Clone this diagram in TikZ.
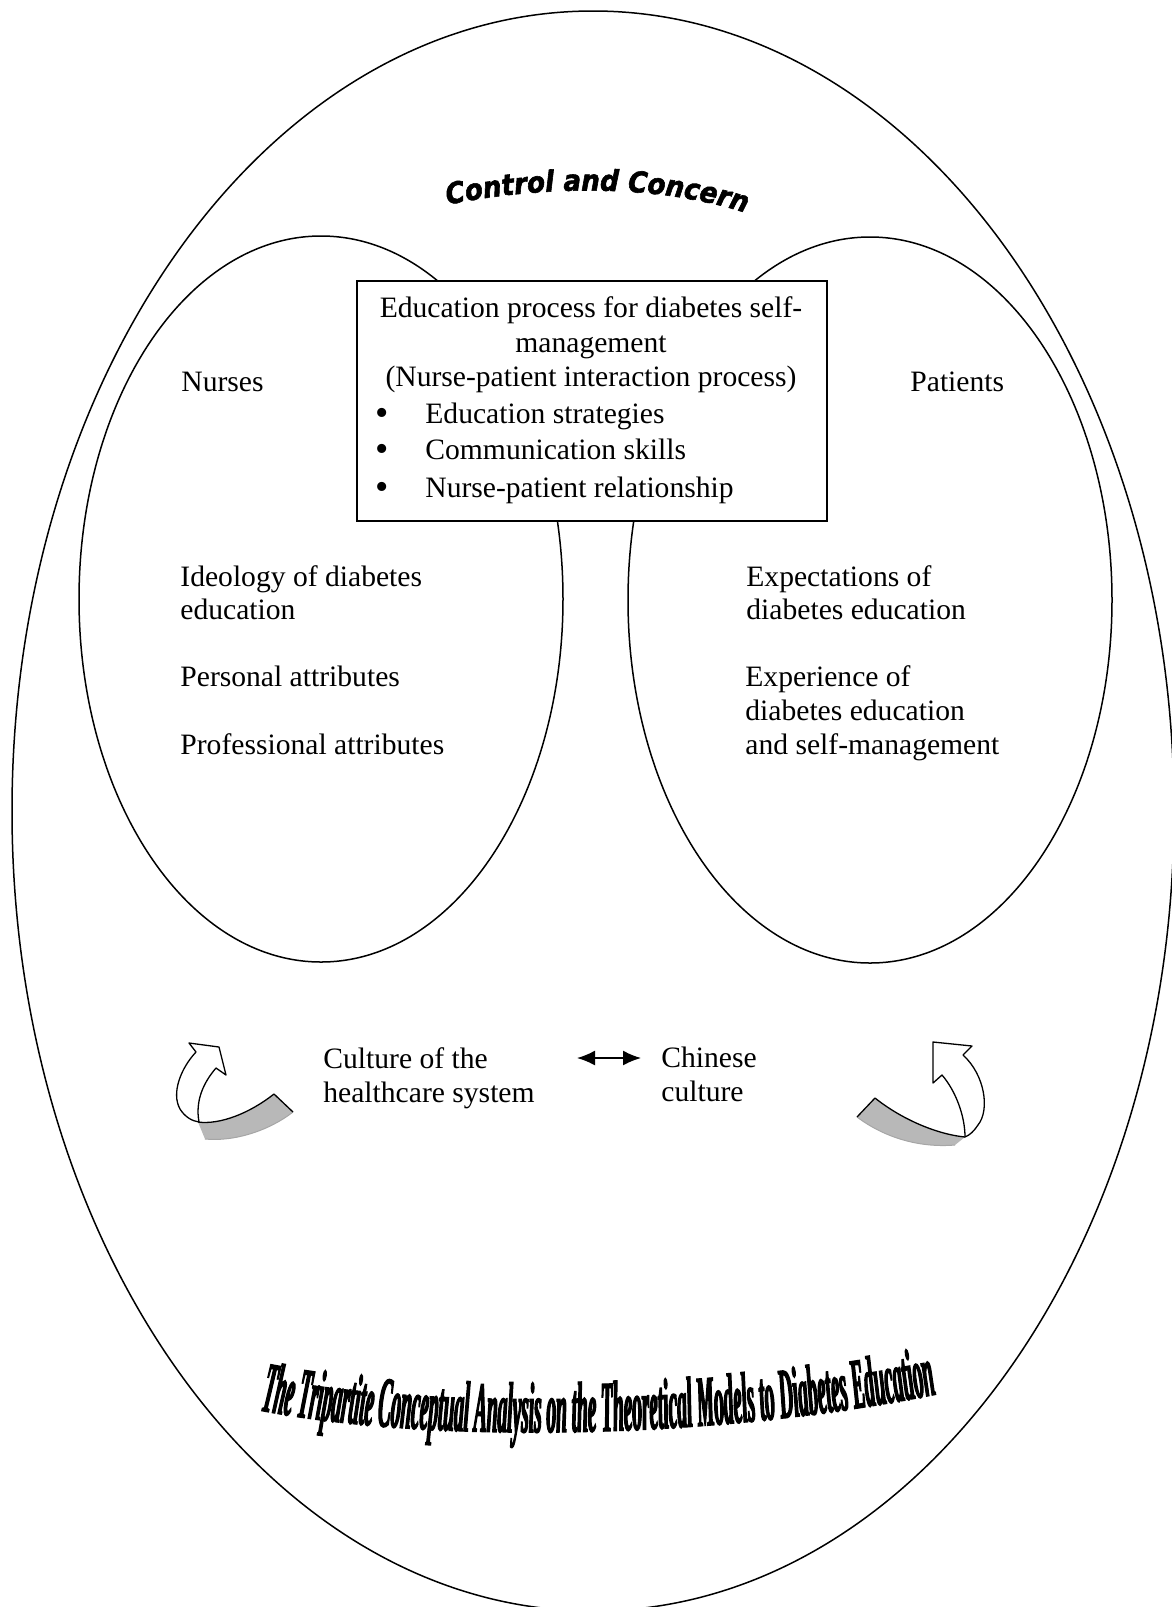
\documentclass[tikz,border=0pt]{standalone}
\usepackage{fontspec}
\setmainfont{Liberation Serif}
\newfontfamily\ccfont[FakeStretch=0.9,FakeBold=2]{DejaVu Sans}
\newfontfamily\ttlfont[FakeStretch=0.27,FakeBold=1.6]{Liberation Serif}
\usetikzlibrary{shapes.geometric,arrows.meta,decorations.text}

\begin{document}
\begin{tikzpicture}[x=0.5pt,y=-0.5pt,
  ring/.style={draw, ellipse, line width=0.75pt, inner sep=0pt, outer sep=0pt},
  procbox/.style={draw, fill=white, line width=1.2pt, inner sep=0pt},
  lbl/.style={anchor=base west, inner sep=0pt, font=\fontsize{14.8}{17}\selectfont},
  boxline/.style={anchor=base, inner sep=0pt, font=\fontsize{14.8}{18}\selectfont},
  boxitem/.style={anchor=base west, inner sep=0pt, font=\fontsize{14.8}{18}\selectfont},
  boxdot/.style={anchor=base west, inner sep=0pt, font=\fontsize{19}{18}\selectfont},
  edge/.style={draw=black, line width=0.65pt, line join=round},
  bandfill/.style={fill=black!28},
  bandsoft/.style={draw=black!35, line width=0.5pt},
  link/.style={line width=0.8pt, {Latex[length=9pt,width=7.5pt]}-{Latex[length=9pt,width=7.5pt]}}]

\useasboundingbox (0,0) rectangle (1172,1607);

% the three regions
\node[ring, minimum width=581pt, minimum height=800pt] (outer) at (593,811) {};
\node[ring, minimum width=242pt, minimum height=363pt] (nurses) at (321,599) {};
\node[ring, minimum width=242pt, minimum height=363pt] (patients) at (870,600) {};

% arched heading
\path[decorate, decoration={text along path, text align=center,
  text={|\ccfont\bfseries\itshape\fontsize{14.5}{14.5}\selectfont|Control and Concern}}]
  (441,206) .. controls (540,185) and (660,183) .. (752,215);

% interaction process box
\node[procbox, minimum width=235pt, minimum height=120pt] (process) at (592,401) {};
\node[boxline] (p1) at (591,317) {Education process for diabetes self-};
\node[boxline] (p2) at (591,352) {management};
\node[boxline] (p3) at (591,386) {(Nurse-patient interaction process)};
\node[boxdot] (d1) at (375,425) {\textbullet};
\node[boxdot] (d2) at (375,461) {\textbullet};
\node[boxdot] (d3) at (375,499) {\textbullet};
\node[boxitem] (i1) at (425,423) {Education strategies};
\node[boxitem] (i2) at (425,459) {Communication skills};
\node[boxitem] (i3) at (425,497) {Nurse-patient relationship};

% nurses side
\node[lbl] (nt) at (181,391) {Nurses};
\node[lbl] (n1) at (180,586) {Ideology of diabetes};
\node[lbl] (n2) at (180,619) {education};
\node[lbl] (n3) at (180,686) {Personal attributes};
\node[lbl] (n4) at (180,754) {Professional attributes};

% patients side
\node[lbl] (pt) at (910,391) {Patients};
\node[lbl] (q1) at (746,586) {Expectations of};
\node[lbl] (q2) at (746,619) {diabetes education};
\node[lbl] (q3) at (745,686) {Experience of};
\node[lbl] (q4) at (745,720) {diabetes education};
\node[lbl] (q5) at (745,754) {and self-management};

% cultures
\node[lbl] (c1) at (323,1068) {Culture of the};
\node[lbl] (c2) at (323,1102) {healthcare system};
\node[lbl] (h1) at (661,1067) {Chinese};
\node[lbl] (h2) at (661,1101) {culture};
\coordinate (dl) at (577,1058);
\coordinate (dr) at (641,1058);
\draw[link] (dl) -- (dr);

% left curved arrow
\fill[bandfill] (198,1122) .. controls (220,1125) and (250,1113) .. (274,1094)
  -- (293,1112) .. controls (270,1130) and (235,1142) .. (205,1139) -- cycle;
\draw[bandsoft] (293,1112) .. controls (270,1130) and (235,1142) .. (205,1139);
\draw[edge] (198,1122) .. controls (220,1125) and (250,1113) .. (274,1094) -- (293,1112);
\filldraw[fill=white, edge] (199,1122) .. controls (192,1121) and (185,1117) .. (180,1109)
  .. controls (171,1093) and (181,1068) .. (196,1052) -- (189,1043) -- (219,1047)
  -- (226,1075) -- (216,1068) .. controls (204,1082) and (195,1100) .. (199,1122) -- cycle;

% right curved arrow
\fill[bandfill] (875,1098) .. controls (900,1118) and (935,1134) .. (965,1137)
  -- (955,1145) .. controls (920,1148) and (885,1138) .. (857,1117) -- cycle;
\draw[bandsoft] (955,1145) .. controls (920,1148) and (885,1138) .. (857,1117);
\draw[edge] (857,1117) -- (875,1098) .. controls (900,1118) and (935,1134) .. (965,1137);
\filldraw[fill=white, edge] (965,1137) .. controls (965,1115) and (955,1090) .. (942,1075)
  -- (933,1083) -- (933,1042) -- (972,1046) -- (963,1055)
  .. controls (985,1075) and (990,1110) .. (978,1125)
  .. controls (974,1131) and (970,1135) .. (965,1137) -- cycle;

% arched title
\path[decorate, decoration={text along path, text align=center,
  text={|\ttlfont\bfseries\itshape\fontsize{36}{36}\selectfont|The Tripartite Conceptual Analysis on the Theoretical Models to Diabetes Education}}]
  (258,1410) .. controls (420,1442) and (700,1442) .. (938,1394);
\end{tikzpicture}
\end{document}
